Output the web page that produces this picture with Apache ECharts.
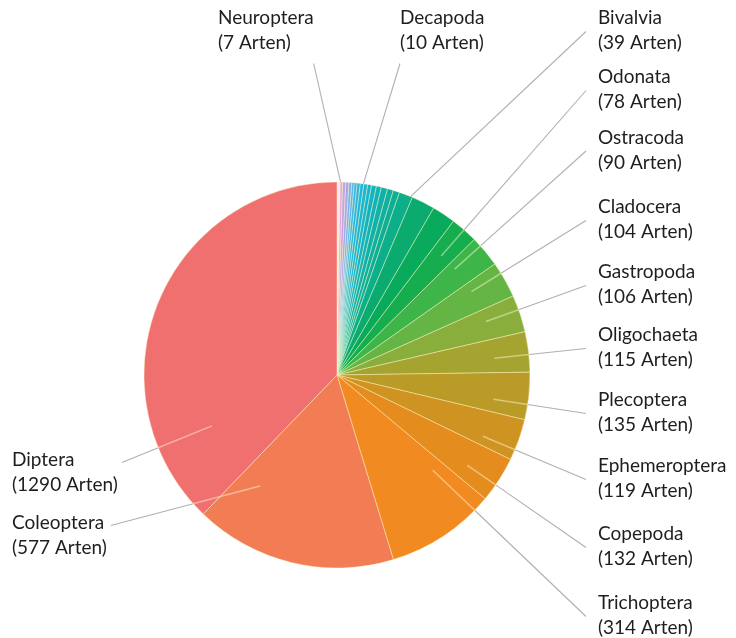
<!DOCTYPE html>
<html><head><meta charset="utf-8">
<script src="https://cdn.jsdelivr.net/npm/echarts@6/dist/echarts.min.js"></script>
<style>html,body{margin:0;padding:0;background:#fff}#c{width:736px;height:638px}</style>
</head><body><div id="c"></div>
<script>
// clockwise from 12 o'clock; empty names are the unlabelled thin slices
const categories = ['', 'Neuroptera', '', '', '', '', '', '', 'Decapoda', '', '', '', '', '', '', '', 'Bivalvia', '', '', 'Odonata', 'Ostracoda', 'Cladocera', 'Gastropoda', 'Oligochaeta', 'Plecoptera', 'Ephemeroptera', 'Copepoda', 'Trichoptera', 'Coleoptera', 'Diptera'];
const values = [9, 7, 9, 9, 8, 7, 8, 9, 10, 11, 11, 14, 14, 18, 17, 18, 39, 67, 67, 78, 90, 104, 106, 115, 135, 119, 132, 314, 577, 1290];
const unitText = 'Arten';

const colors = ['#f7e6ef', '#e3a9d8', '#c6a4e2', '#a2a9ec', '#7eb0ee', '#5ab4ec', '#3cb6e6', '#2ab6e0', '#22b6da', '#1cb5d2', '#17b4ca', '#14b3c0', '#12b2b5', '#10b1aa', '#0fb0a0', '#0eaf96', '#0dae8a', '#0bab70', '#0aaa5c', '#16ad4e', '#3db549', '#64b544', '#8aae3b', '#a6a431', '#bb9b28', '#cf9322', '#e58c1f', '#f28a22', '#f27d55', '#f07070'];

// label text block top-left corners (layout only)
const labelSpots = {
  Neuroptera: [218, 5.5], Decapoda: [400, 5.5], Bivalvia: [598, 5.5], Odonata: [598, 64.5],
  Ostracoda: [598, 125], Cladocera: [598, 194.5], Gastropoda: [598, 259.5], Oligochaeta: [598, 322.5],
  Plecoptera: [598, 387.5], Ephemeroptera: [598, 453.5], Copepoda: [598, 521.5], Trichoptera: [598, 590.5],
  Diptera: [12, 447.5], Coleoptera: [12, 510.5]
};

const CX = 337, CY = 375, R = 193;
const total = values.reduce((a, b) => a + b, 0);
const startAng = [], spanAng = [];
let acc = 0;
values.forEach(v => { startAng.push(acc / total * 360); spanAng.push(v / total * 360); acc += v; });
function polar(a, r) { const t = a * Math.PI / 180; return [CX + r * Math.sin(t), CY - r * Math.cos(t)]; }
function norm(d) { return ((d + 180) % 360 + 360) % 360 - 180; }
const innerSegs = {};

function leader(i, x, y, w, h) {
  const mid = startAng[i] + spanAng[i] / 2;
  let anchor;
  if (x + w < 560 && y + h < CY - R) {
    const mx = polar(mid, R)[0];
    anchor = [Math.min(Math.max(mx, x), x + w), y + h + 8];
  } else if (x < CX) {
    anchor = [x + w + 4, y + 15];
  } else {
    anchor = [x - 12, y + 26];
  }
  const dir = Math.atan2(anchor[0] - CX, -(anchor[1] - CY)) * 180 / Math.PI;
  const lim = spanAng[i] * 0.35;
  let d = norm(dir - mid); d = Math.max(-lim, Math.min(lim, d));
  const span = spanAng[i];
  const rr = span > 30 ? 0.7 * R : (span > 6 ? 0.82 * R : R);
  const inner = polar(mid + d, rr);
  let edge = inner;
  if (rr < R) {
    const Dx = anchor[0] - inner[0], Dy = anchor[1] - inner[1];
    const fx = inner[0] - CX, fy = inner[1] - CY;
    const a = Dx * Dx + Dy * Dy, b = 2 * (fx * Dx + fy * Dy), c = fx * fx + fy * fy - R * R;
    const t = (-b + Math.sqrt(b * b - 4 * a * c)) / (2 * a);
    edge = [inner[0] + t * Dx, inner[1] + t * Dy];
    innerSegs[i] = [inner, edge];
  }
  return [edge, anchor];
}

const data = categories.map((n, i) => ({
  name: n,
  value: values[i],
  itemStyle: { color: colors[i] },
  label: { show: n !== '' },
  labelLine: { show: n !== '' }
}));

const chart = echarts.init(document.getElementById('c'));
const option = {
  animation: false,
  backgroundColor: '#ffffff',
  series: [{
    type: 'pie',
    center: [CX, CY],
    radius: R,
    startAngle: 90,
    clockwise: true,
    avoidLabelOverlap: false,
    silent: true,
    data: data,
    itemStyle: { borderColor: 'rgba(255,250,200,0.6)', borderWidth: 0.7 },
    label: {
      show: true,
      position: 'outside',
      formatter: p => p.name + '\n(' + p.value + ' ' + unitText + ')',
      fontFamily: 'Lato',
      fontSize: 19,
      lineHeight: 25,
      color: '#1e1e1e'
    },
    labelLine: { show: true, lineStyle: { color: '#b0b0b0', width: 1.1 } },
    labelLayout: function (p) {
      const name = categories[p.dataIndex];
      const spot = labelSpots[name];
      if (!spot) return {};
      const w = p.labelRect.width, h = p.labelRect.height;
      const pts = leader(p.dataIndex, spot[0], spot[1], w, h);
      return { x: spot[0], y: spot[1], align: 'left', verticalAlign: 'top', labelLinePoints: pts };
    }
  }]
};
chart.setOption(option);
const g = Object.keys(innerSegs).map(k => ({
  type: 'line', z: 100, silent: true,
  shape: { x1: innerSegs[k][0][0], y1: innerSegs[k][0][1], x2: innerSegs[k][1][0], y2: innerSegs[k][1][1] },
  style: { stroke: 'rgba(255,255,230,0.45)', lineWidth: 1.5 }
}));
chart.setOption({ graphic: g });
</script>
</body></html>
